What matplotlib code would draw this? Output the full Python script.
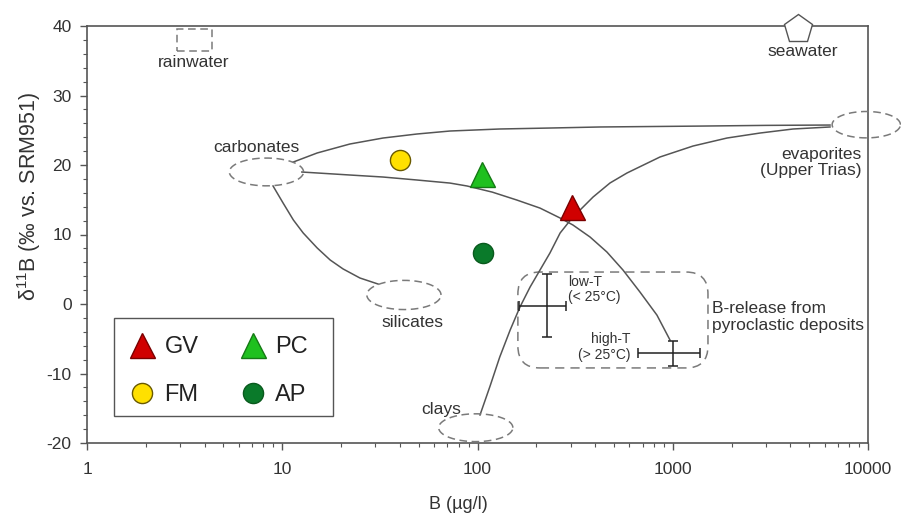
import numpy as np
import matplotlib
matplotlib.use("Agg")
import matplotlib.pyplot as plt
from matplotlib.patches import Rectangle, FancyBboxPatch
from matplotlib.lines import Line2D

plt.rcParams['font.family'] = ['Liberation Sans', 'DejaVu Sans']
plt.rcParams['mathtext.fontset'] = 'custom'
plt.rcParams['mathtext.rm'] = 'Liberation Sans'
plt.rcParams['mathtext.it'] = 'Liberation Sans:italic'
plt.rcParams['axes.unicode_minus'] = False

# ---------------- data ----------------
sample_names = ["GV", "PC", "FM", "AP"]
sample_B = [305, 105, 40, 107]
sample_d11B = [14.0, 18.7, 20.7, 7.3]

# end-member fields: centre B, centre d11B, half-width (log10 decades), half-height
em_names = ["carbonates", "silicates", "clays", "evaporites"]
em_B = [8.3, 42, 98, 9800]
em_d11B = [19.0, 1.3, -17.8, 25.8]
em_hw = [0.19, 0.19, 0.19, 0.175]
em_hh = [2.0, 2.1, 2.0, 1.9]

# mixing curves
carb_evap_B = [11.4, 15.1, 22.2, 32.8, 49.0, 72.3, 130, 235, 424, 1380, 3000, 6390]
carb_evap_d = [20.43, 21.73, 23.02, 23.88, 24.46, 24.89, 25.18, 25.32, 25.47, 25.6, 25.7, 25.75]

carb_pyro_B = [12.6, 22.2, 32.8, 49.0, 72.3, 88.4, 119, 159, 209, 265, 308, 377, 460,
               556, 679, 830, 968]
carb_pyro_d = [18.99, 18.56, 18.27, 17.84, 17.4, 16.98, 16.1, 14.96, 13.8, 12.37, 11.37,
               9.64, 7.48, 4.89, 1.73, -1.6, -5.18]

clay_evap_B = [103, 116, 130, 147, 165, 186, 209, 235, 265, 305, 391, 477, 583, 860,
               1270, 1895, 2800, 4130, 6390]
clay_evap_d = [-15.97, -11.8, -7.63, -3.74, -0.43, 2.45, 4.89, 7.34, 10.22, 12.37, 15.4,
               17.41, 18.85, 21.15, 22.73, 23.88, 24.6, 25.18, 25.47]

carb_sil_B = [8.97, 10.1, 11.4, 12.8, 15.1, 17.6, 20.5, 25.0, 30.9]
carb_sil_d = [16.98, 14.53, 12.09, 10.22, 8.06, 6.33, 5.04, 3.74, 2.88]

# pyroclastic B release
pyro_names = ["low-T", "high-T"]
pyro_B = [227, 1000]
pyro_B_lo = [163, 664]
pyro_B_hi = [284, 1380]
pyro_d = [-0.3, -7.0]
pyro_d_lo = [-4.7, -8.9]
pyro_d_hi = [4.3, -5.3]
pyro_box_B = [161, 1515]
pyro_box_d = [-9.2, 4.6]

rain_B = [2.89, 4.37]
rain_d = [36.4, 39.6]
sea_B = 4400
sea_d = 39.5

xticks = [1, 10, 100, 1000, 10000]
xticklabels = ["1", "10", "100", "1000", "10000"]
yticks = [-20, -10, 0, 10, 20, 30, 40]

# ---------------- figure ----------------
W, H = 901, 515
fig = plt.figure(figsize=(W / 100, H / 100), dpi=100)
ax = fig.add_axes([87 / W, 1 - 443 / H, (868 - 87) / W, (443 - 26) / H])
ax.set_xscale('log')
ax.set_xlim(1, 10000)
ax.set_ylim(-20, 40)

axcol = '#555555'
txtcol = '#333333'
linecol = '#555555'
dashcol = '#7a7a7a'

for s in ax.spines.values():
    s.set_color(axcol)
    s.set_linewidth(1.2)

ax.set_xticks(xticks)
ax.set_xticklabels(xticklabels)
ax.set_yticks(yticks)
ax.yaxis.set_minor_locator(matplotlib.ticker.MultipleLocator(2))
ax.tick_params(which='both', direction='out', colors=axcol, labelcolor=txtcol,
               top=False, right=False)
ax.tick_params(which='major', length=5, width=1.0, labelsize=12.5)
ax.tick_params(which='minor', length=3, width=0.8)
ax.tick_params(axis='x', which='major', pad=9)
ax.tick_params(axis='y', which='major', pad=6)

ax.set_xlabel("B (µg/l)", fontsize=13, color=txtcol)
ax.xaxis.set_label_coords(0.476, -0.128)
ax.set_ylabel("δ$^{11}$B (‰ vs. SRM951)", fontsize=15.5, color=txtcol)
ax.yaxis.set_label_coords(-0.056, 0.592)

# mixing curves
for bx, dy in [(carb_evap_B, carb_evap_d), (carb_pyro_B, carb_pyro_d),
               (clay_evap_B, clay_evap_d), (carb_sil_B, carb_sil_d)]:
    ax.plot(bx, dy, color=linecol, lw=1.1, zorder=2, solid_joinstyle='round')

# end-member ellipses (drawn in log-x space)
t = np.linspace(0, 2 * np.pi, 200)
for cb, cd, hw, hh in zip(em_B, em_d11B, em_hw, em_hh):
    ex = 10 ** (np.log10(cb) + hw * np.cos(t))
    ey = cd + hh * np.sin(t)
    ax.plot(ex, ey, color=dashcol, lw=1.1, ls=(0, (5, 3)), clip_on=False, zorder=3)

# rainwater box
ax.add_patch(Rectangle((rain_B[0], rain_d[0]), rain_B[1] - rain_B[0], rain_d[1] - rain_d[0],
                       fill=False, edgecolor=dashcol, lw=1.1, ls=(0, (5, 3))))

# seawater pentagon
ax.plot([sea_B], [sea_d], marker='p', ms=21, mfc='white', mec='#555555', mew=1.0,
        clip_on=False, zorder=5)

# pyroclastic rounded box
fig.canvas.draw()
to_ax = ax.transData + ax.transAxes.inverted()
(x0, y0) = to_ax.transform((pyro_box_B[0], pyro_box_d[0]))
(x1, y1) = to_ax.transform((pyro_box_B[1], pyro_box_d[1]))
aw = (868 - 87)
ah = (443 - 26)
ax.add_patch(FancyBboxPatch((x0, y0), x1 - x0, y1 - y0,
                            boxstyle="round,pad=0,rounding_size=%f" % (22 / aw),
                            mutation_aspect=aw / ah, transform=ax.transAxes,
                            fill=False, edgecolor=dashcol, lw=1.1, ls=(0, (6, 4))))

# error crosses
for b, blo, bhi, d, dlo, dhi in zip(pyro_B, pyro_B_lo, pyro_B_hi, pyro_d, pyro_d_lo, pyro_d_hi):
    ax.errorbar([b], [d], xerr=[[b - blo], [bhi - b]], yerr=[[d - dlo], [dhi - d]],
                fmt='none', ecolor='#222222', elinewidth=1.1, capsize=3.5, capthick=1.1,
                zorder=4)

# samples
styles = {
    "GV": dict(marker='^', ms=18, mfc='#d00000', mec='#7a0000'),
    "PC": dict(marker='^', ms=18, mfc='#1fc01f', mec='#157a15'),
    "FM": dict(marker='o', ms=14.5, mfc='#ffe000', mec='#6a5a00'),
    "AP": dict(marker='o', ms=14.5, mfc='#0a7a2a', mec='#0a5a1e'),
}
for n, b, d in zip(sample_names, sample_B, sample_d11B):
    ax.plot([b], [d], ls='none', mew=1.0, zorder=6, **styles[n])

# labels
kw = dict(fontsize=12.5, color=txtcol)
ax.text(3.53, 34.7, "rainwater", ha='center', va='center', **kw)
ax.text(4650, 36.3, "seawater", ha='center', va='center', **kw)
ax.text(7.34, 22.45, "carbonates", ha='center', va='center', **kw)
ax.text(9310, 20.36, "evaporites\n(Upper Trias)", ha='right', va='center',
        multialignment='right', linespacing=1.15, **kw)
ax.text(46.7, -2.6, "silicates", ha='center', va='center', **kw)
ax.text(65, -15.25, "clays", ha='center', va='center', **kw)
ax.text(1589, -1.87, "B-release from\npyroclastic deposits", ha='left', va='center',
        linespacing=1.1, **kw)
ax.text(291, 2.09, "low-T\n(< 25°C)", ha='left', va='center', fontsize=10,
        color=txtcol, linespacing=1.1)
ax.text(611, -6.19, "high-T\n(> 25°C)", ha='right', va='center', multialignment='right',
        fontsize=10, color=txtcol, linespacing=1.1)

# legend (frame drawn separately)
order = ["GV", "FM", "PC", "AP"]
handles = [Line2D([], [], ls='none', mew=1.0, **styles[n]) for n in order]
leg = ax.legend(handles, order, ncol=2, loc='center',
                bbox_to_anchor=(0.167, 0.173), fontsize=17,
                frameon=False, borderpad=0.0, labelspacing=1.1, columnspacing=1.65,
                handletextpad=0.3, handlelength=1.3, borderaxespad=0)
for txt in leg.get_texts():
    txt.set_color('#222222')
lx0, lx1 = (114 - 87) / aw, (333 - 87) / aw
ly0, ly1 = (443 - 416) / ah, (443 - 318) / ah
ax.add_patch(Rectangle((lx0, ly0), lx1 - lx0, ly1 - ly0, transform=ax.transAxes,
                       fill=True, facecolor='white', edgecolor='#555555', lw=1.0, zorder=7))
leg.set_zorder(8)

fig.savefig("out.png", dpi=100)
